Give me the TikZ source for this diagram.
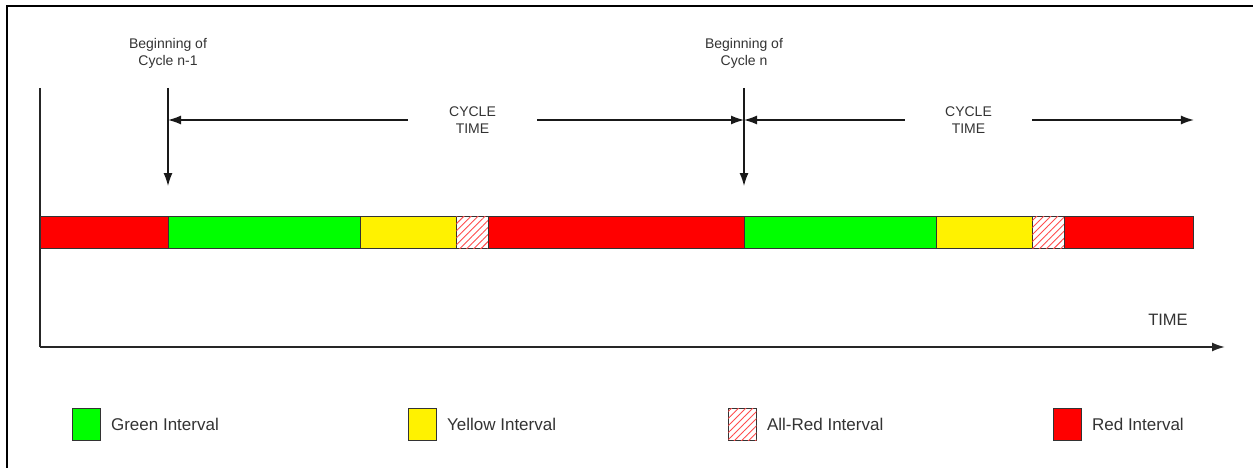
\documentclass[tikz,border=0pt]{standalone}
\usepackage{fontspec}
\setmainfont{Liberation Sans}
\usetikzlibrary{arrows.meta,patterns.meta}

\tikzset{
    seg/.style={draw=black!80, line width=0.9pt, inner sep=0pt, minimum height=32pt},
    redint/.style={seg, fill=red},
    greenint/.style={seg, fill=green},
    yellowint/.style={seg, fill=yellow},
    allred/.style={seg, fill=white, postaction={pattern={Lines[angle=45,distance=5pt,line width=0.9pt]}, pattern color=red!70}},
    lbl/.style={text=black!80, font=\fontsize{14}{17}\selectfont, align=center, inner sep=0pt},
    keytext/.style={text=black!80, font=\fontsize{17}{20}\selectfont, anchor=west, inner sep=0pt},
    tip/.style={-{Latex[length=13pt,width=9pt]}, line width=1.3pt, black!90},
    axis/.style={line width=1.8pt, black!85},
}

\begin{document}
\begin{tikzpicture}[x=1pt,y=-1pt]
    \useasboundingbox (0,0) rectangle (1253,468);
    \draw[line width=2.5pt] (7,470) -- (7,6) -- (1255,6);

    % time axes
    \coordinate (ytop) at (40,88);
    \coordinate (orig) at (40,347);
    \coordinate (xend) at (1225,347);
    \draw[axis] (ytop) -- (orig);
    \draw[axis,-{Latex[length=13pt,width=9pt]}] (orig) -- (xend);
    \node[keytext,anchor=center,font=\fontsize{16.5}{20}\selectfont] (time) at (1168,320) {TIME};

    % two cycles of intervals
    \foreach[count=\i] \a/\b/\s in {40/168/redint, 168/360/greenint, 360/456/yellowint, 456/488/allred, 488/744/redint,
                                    744/936/greenint, 936/1032/yellowint, 1032/1064/allred, 1064/1193/redint} {
        \node[\s, minimum width={(\b-\a)*1pt}, anchor=west] (seg\i) at (\a,232) {};
    }

    % start of each cycle
    \node[lbl] (beg1) at (168,53) {Beginning of\\Cycle n-1};
    \node[lbl] (beg2) at (744,53) {Beginning of\\Cycle n};
    \coordinate (top1) at (168,88);
    \coordinate (top2) at (744,88);
    \draw[tip] (top1) -- (top1 |- 0,186);
    \draw[tip] (top2) -- (top2 |- 0,186);

    % cycle lengths
    \node[lbl, minimum width=129pt] (ct1) at (472.5,120) {CYCLE\\TIME};
    \node[lbl, minimum width=127pt] (ct2) at (968.5,120) {CYCLE\\TIME};
    \draw[tip] (ct1.west) -- (ct1 -| top1);
    \draw[tip] (ct1.east) -- (ct1 -| top2);
    \draw[tip] (ct2.west) -- (ct2 -| top2);
    \draw[tip] (ct2.east) -- (ct2 -| seg9.east);

    % key
    \foreach[count=\i] \x/\s/\t in {72/greenint/Green Interval, 408/yellowint/Yellow Interval,
                                    728/allred/All-Red Interval, 1053/redint/Red Interval} {
        \node[\s, minimum width=28pt, anchor=west] (key\i) at (\x,424) {};
        \node[keytext] (keylbl\i) at ([xshift=10pt]key\i.east) {\t};
    }
\end{tikzpicture}
\end{document}
